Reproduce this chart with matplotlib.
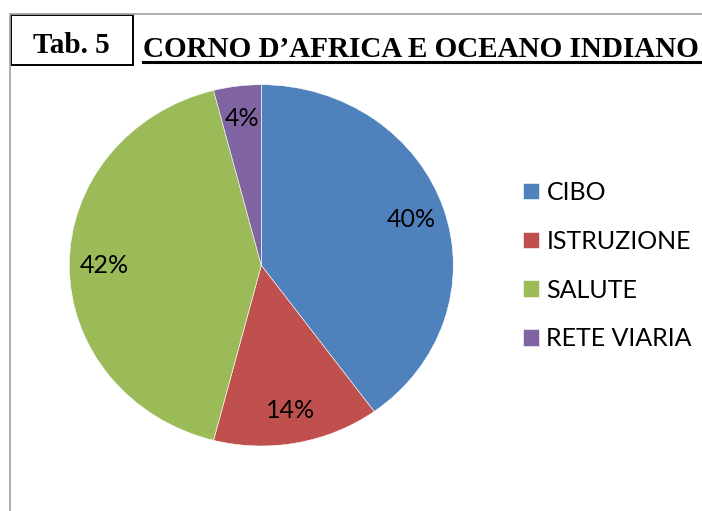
import matplotlib
matplotlib.use("Agg")
import matplotlib.pyplot as plt
from matplotlib.lines import Line2D
from matplotlib.patches import Rectangle

categories = ["CIBO", "ISTRUZIONE", "SALUTE", "RETE VIARIA"]
values = [40, 14, 42, 4]
colors = ["#4F81BD", "#C0504D", "#9BBB59", "#8064A2"]
tab_label = "Tab. 5"
title = "CORNO D\u2019AFRICA E OCEANO INDIANO"

W, H = 702, 511
fig = plt.figure(figsize=(W / 100, H / 100), dpi=100)

def fx(px):
    return px / W

def fy(py):
    return 1 - py / H

# outer border (top and left)
fig.add_artist(Line2D([fx(10), fx(702)], [fy(14), fy(14)], color="#A6A6A6", lw=1.3))
fig.add_artist(Line2D([fx(10), fx(10)], [fy(14), fy(511)], color="#A6A6A6", lw=1.3))

# Tab box
fig.add_artist(Rectangle((fx(11), fy(65)), fx(133) - fx(11), fy(15) - fy(65),
                         transform=fig.transFigure, fill=False, edgecolor="black", lw=1.4))
fig.text(fx(71), fy(53), tab_label, ha="center", va="baseline",
         fontfamily="Liberation Serif", fontweight="bold", fontsize=21)

# Title with underline
fig.text(fx(143), fy(57), title, ha="left", va="baseline",
         fontfamily="Liberation Serif", fontweight="bold", fontsize=21)
fig.add_artist(Line2D([fx(143), fx(702)], [fy(62), fy(62)], color="black", lw=2.2))

# pie
ax = fig.add_axes([fx(69.3), fy(446), fx(453.3) - fx(69.3), fy(84.7) - fy(446)])
wedges, texts, autotexts = ax.pie(values, colors=colors, startangle=90, counterclock=False,
                                  autopct="%.0f%%", pctdistance=0.82,
                                  wedgeprops=dict(edgecolor="white", linewidth=0.4),
                                  textprops=dict(fontfamily="Lato", fontsize=18, color="black"))
ax.set_aspect("auto")
ax.set_xlim(-1, 1)
ax.set_ylim(-1, 1)
ax.axis("off")

leg = fig.legend(wedges, categories, loc="upper left",
                 bbox_to_anchor=(fx(523), fy(181)), bbox_transform=fig.transFigure,
                 frameon=False, borderpad=0, borderaxespad=0,
                 handlelength=0.64, handleheight=0.64, handletextpad=0.3,
                 labelspacing=1.03, prop=dict(family="Lato", size=18))

fig.savefig("out.png", dpi=100)
